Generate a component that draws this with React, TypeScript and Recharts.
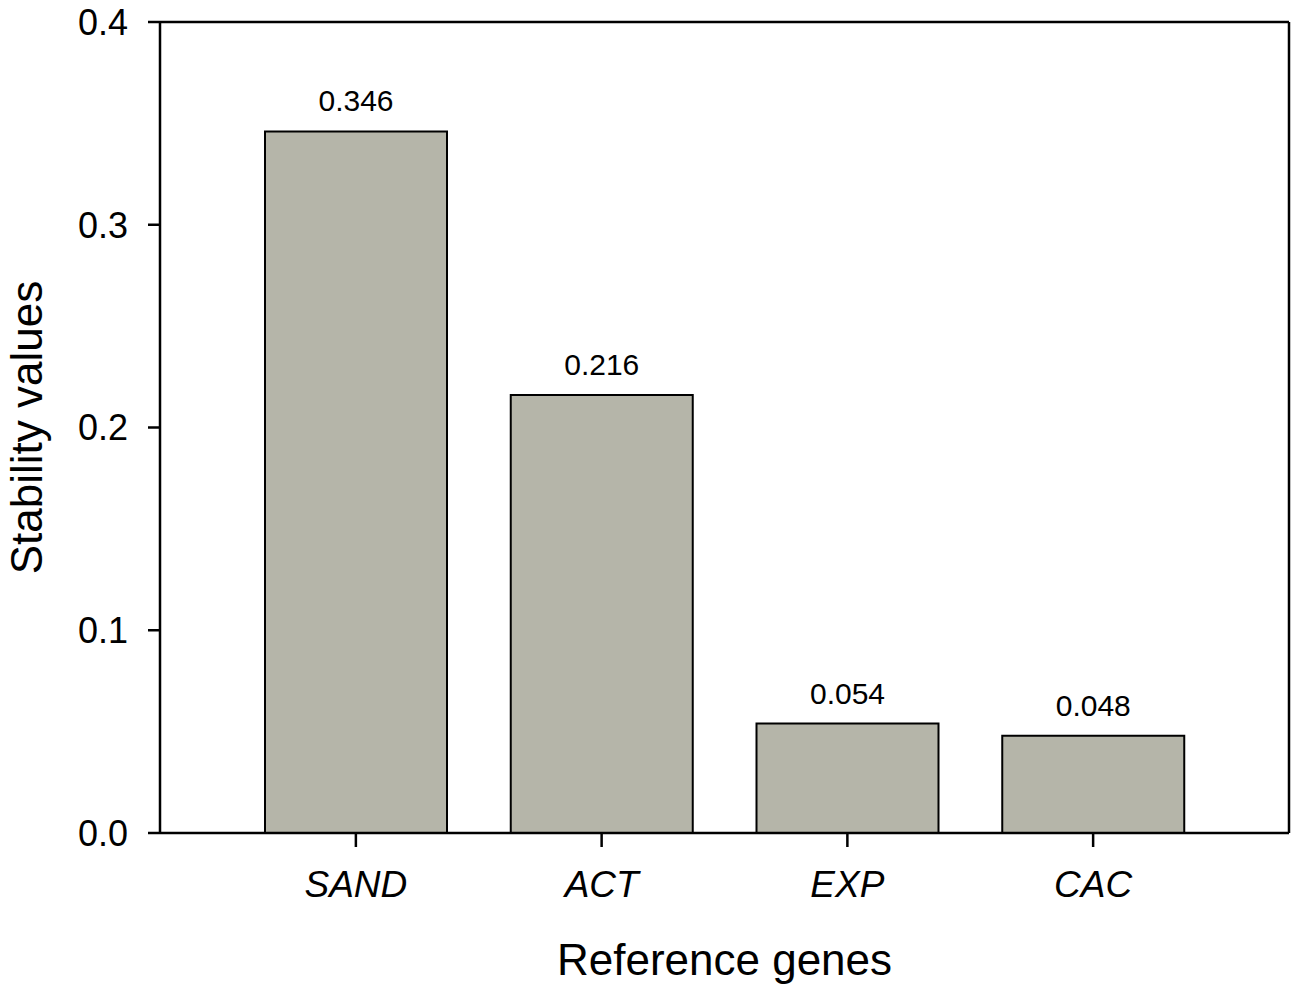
import { BarChart, Bar, XAxis, YAxis, LabelList } from 'recharts';

const GENES = ['SAND', 'ACT', 'EXP', 'CAC'];
const STABILITY = [0.346, 0.216, 0.054, 0.048];
const Y_TICKS = [0, 0.1, 0.2, 0.3, 0.4];

const FONT = '"Liberation Sans", Arial, sans-serif';
const BAR_FILL = '#b5b5a9';

const data = GENES.map((g, i) => ({ gene: g, value: STABILITY[i] }));

const lineStyle = { stroke: '#000', strokeWidth: 2.5 };

export default function App() {
  return (
    <div style={{ position: 'absolute', left: 0, top: 0, width: 1300, height: 993, background: '#fff' }}>
      <BarChart width={1300} height={993} data={data}
                margin={{ top: 21, right: 10, bottom: 0, left: 0 }}
                style={{ fontFamily: FONT }}>
        <XAxis dataKey="gene" height={160} padding={{ left: 73, right: 73 }}
               axisLine={lineStyle} tickLine={lineStyle} tickSize={14} tickMargin={24}
               tick={{ fontSize: 37, fill: '#000', fontStyle: 'italic', fontFamily: FONT }}
               label={{
                 content: (p: any) => {
                   const vb = p.viewBox;
                   return (
                     <text x={vb.x + vb.width / 2} y={vb.y + 142} textAnchor="middle"
                           fontSize={44} fill="#000" fontFamily={FONT}>Reference genes</text>
                   );
                 }
               }} />
        <XAxis xAxisId="top" dataKey="gene" orientation="top" height={1}
               padding={{ left: 73, right: 73 }} axisLine={lineStyle} tick={false} tickLine={false} />
        <YAxis type="number" domain={[0, 0.4]} ticks={Y_TICKS} width={160}
               axisLine={lineStyle} tickLine={lineStyle} tickSize={12} tickMargin={20}
               tickFormatter={(v: number) => v.toFixed(1)}
               tick={{ fontSize: 36, fill: '#000', fontFamily: FONT }}
               label={{
                 content: (p: any) => {
                   const vb = p.viewBox;
                   const cx = vb.x + 42;
                   const cy = vb.y + vb.height / 2;
                   return (
                     <text x={cx} y={cy} transform={`rotate(-90 ${cx} ${cy})`} textAnchor="middle"
                           fontSize={44} fill="#000" fontFamily={FONT}>Stability values</text>
                   );
                 }
               }} />
        <YAxis yAxisId="right" orientation="right" type="number" domain={[0, 0.4]} width={1}
               axisLine={lineStyle} tick={false} tickLine={false} />
        <Bar dataKey="value" fill={BAR_FILL} stroke="#000" strokeWidth={2} barSize={182}
             isAnimationActive={false}>
          <LabelList dataKey="value" position="top" offset={20}
                     formatter={(v: any) => Number(v).toFixed(3)}
                     style={{ fontSize: 30, fill: '#000', fontFamily: FONT }} />
        </Bar>
      </BarChart>
    </div>
  );
}
